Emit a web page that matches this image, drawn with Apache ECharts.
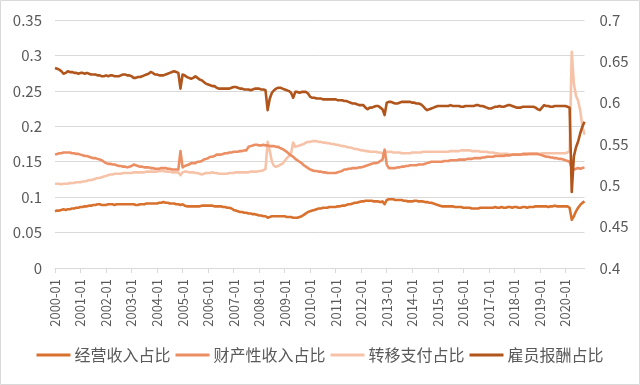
<!DOCTYPE html>
<html>
<head>
<meta charset="utf-8">
<script src="https://cdn.jsdelivr.net/npm/echarts@6/dist/echarts.min.js"></script>
<style>
html,body{margin:0;padding:0;background:#fff;}
#chart{width:640px;height:385px;}
</style>
</head>
<body>
<div id="chart"></div>
<script>
// Series names
const seriesNames = ['经营收入占比', '财产性收入占比', '转移支付占比', '雇员报酬占比'];

// Left axis ticks / right axis ticks
const leftTicks = [0, 0.05, 0.1, 0.15, 0.2, 0.25, 0.3, 0.35];
const rightTicks = [0.4, 0.45, 0.5, 0.55, 0.6, 0.65, 0.7];

// Monthly categories 2000-01 .. 2020-10
const categories = [];
for (let y = 2000; y <= 2020; y++) {
  for (let m = 1; m <= 12; m++) {
    if (y === 2020 && m > 10) break;
    categories.push(y + '-' + (m < 10 ? '0' + m : m));
  }
}

// 经营收入占比 (left axis)
const proprietor = [
0.080,0.081,0.081,0.082,0.083,0.082,0.083,0.083,0.084,0.084,0.085,0.085,
0.086,0.086,0.087,0.087,0.088,0.088,0.089,0.089,0.090,0.090,0.089,0.089,
0.089,0.090,0.090,0.090,0.089,0.090,0.090,0.090,0.090,0.090,0.090,0.090,
0.090,0.090,0.089,0.089,0.090,0.090,0.090,0.091,0.091,0.091,0.091,0.091,
0.091,0.092,0.092,0.093,0.092,0.092,0.091,0.091,0.091,0.090,0.090,0.089,
0.090,0.088,0.087,0.087,0.087,0.087,0.087,0.087,0.087,0.088,0.088,0.088,
0.088,0.088,0.088,0.087,0.087,0.087,0.087,0.086,0.086,0.085,0.085,0.084,
0.082,0.081,0.080,0.079,0.079,0.078,0.078,0.077,0.077,0.076,0.076,0.075,
0.074,0.074,0.073,0.073,0.071,0.072,0.073,0.073,0.073,0.073,0.073,0.073,
0.073,0.072,0.072,0.072,0.071,0.071,0.071,0.072,0.073,0.075,0.077,0.079,
0.080,0.081,0.082,0.083,0.084,0.084,0.085,0.085,0.085,0.086,0.086,0.086,
0.086,0.087,0.087,0.088,0.088,0.089,0.090,0.090,0.091,0.092,0.092,0.093,
0.094,0.094,0.095,0.095,0.095,0.095,0.094,0.094,0.094,0.093,0.094,0.090,
0.096,0.097,0.097,0.097,0.096,0.096,0.096,0.096,0.095,0.095,0.094,0.094,
0.094,0.095,0.095,0.094,0.094,0.094,0.093,0.093,0.092,0.092,0.091,0.090,
0.089,0.088,0.087,0.087,0.087,0.087,0.087,0.087,0.086,0.086,0.086,0.086,
0.085,0.085,0.085,0.085,0.084,0.084,0.084,0.084,0.085,0.085,0.085,0.085,
0.085,0.085,0.085,0.086,0.085,0.085,0.086,0.085,0.085,0.086,0.086,0.085,
0.086,0.086,0.085,0.085,0.086,0.086,0.085,0.086,0.086,0.086,0.087,0.087,
0.087,0.087,0.087,0.087,0.086,0.087,0.087,0.088,0.087,0.087,0.087,0.087,
0.087,0.087,0.085,0.068,0.073,0.080,0.085,0.089,0.092,0.094
];

// 财产性收入占比 (left axis)
const property = [
0.160,0.161,0.162,0.162,0.163,0.163,0.163,0.163,0.162,0.162,0.161,0.161,
0.160,0.159,0.158,0.158,0.157,0.156,0.155,0.155,0.154,0.153,0.152,0.150,
0.148,0.147,0.147,0.146,0.146,0.145,0.144,0.144,0.143,0.143,0.142,0.143,
0.144,0.146,0.145,0.144,0.143,0.143,0.142,0.142,0.142,0.141,0.141,0.140,
0.140,0.140,0.141,0.141,0.141,0.140,0.140,0.139,0.139,0.139,0.139,0.165,
0.142,0.144,0.145,0.146,0.148,0.148,0.148,0.150,0.150,0.151,0.153,0.154,
0.155,0.157,0.157,0.158,0.160,0.160,0.160,0.161,0.162,0.162,0.163,0.163,
0.164,0.164,0.164,0.165,0.165,0.166,0.166,0.171,0.172,0.173,0.174,0.174,
0.173,0.173,0.174,0.173,0.173,0.172,0.172,0.172,0.171,0.171,0.169,0.168,
0.166,0.164,0.161,0.159,0.157,0.154,0.152,0.150,0.148,0.145,0.143,0.141,
0.139,0.138,0.137,0.137,0.136,0.136,0.135,0.135,0.134,0.134,0.134,0.134,
0.134,0.135,0.136,0.137,0.139,0.139,0.140,0.140,0.141,0.141,0.141,0.142,
0.142,0.143,0.144,0.145,0.146,0.147,0.148,0.148,0.149,0.151,0.153,0.167,
0.146,0.141,0.141,0.141,0.141,0.142,0.142,0.143,0.143,0.144,0.144,0.145,
0.145,0.145,0.145,0.146,0.146,0.146,0.147,0.148,0.149,0.150,0.150,0.150,
0.150,0.150,0.150,0.151,0.151,0.151,0.152,0.152,0.152,0.152,0.153,0.153,
0.153,0.153,0.154,0.154,0.154,0.155,0.155,0.155,0.155,0.156,0.156,0.157,
0.157,0.157,0.157,0.158,0.158,0.158,0.158,0.158,0.159,0.159,0.159,0.160,
0.160,0.160,0.160,0.160,0.161,0.161,0.161,0.161,0.161,0.161,0.161,0.161,
0.160,0.159,0.158,0.157,0.157,0.156,0.156,0.155,0.155,0.154,0.154,0.153,
0.152,0.151,0.150,0.141,0.139,0.140,0.141,0.140,0.141,0.142
];

// 转移支付占比 (left axis)
const transfer = [
0.119,0.119,0.119,0.118,0.119,0.119,0.119,0.120,0.120,0.120,0.121,0.121,
0.121,0.122,0.122,0.123,0.124,0.124,0.125,0.126,0.127,0.127,0.128,0.129,
0.130,0.131,0.132,0.132,0.133,0.133,0.133,0.133,0.134,0.134,0.134,0.134,
0.134,0.135,0.135,0.135,0.135,0.135,0.135,0.136,0.136,0.136,0.136,0.136,
0.136,0.137,0.137,0.137,0.136,0.136,0.136,0.135,0.135,0.135,0.135,0.131,
0.135,0.136,0.136,0.135,0.135,0.135,0.134,0.134,0.133,0.132,0.133,0.134,
0.134,0.134,0.135,0.134,0.134,0.133,0.133,0.133,0.133,0.133,0.134,0.134,
0.134,0.135,0.135,0.135,0.135,0.135,0.135,0.135,0.136,0.136,0.136,0.136,
0.137,0.137,0.138,0.140,0.178,0.165,0.150,0.144,0.143,0.144,0.146,0.147,
0.151,0.155,0.158,0.162,0.177,0.171,0.172,0.173,0.174,0.175,0.177,0.178,
0.178,0.179,0.179,0.179,0.178,0.178,0.177,0.177,0.176,0.176,0.175,0.175,
0.174,0.174,0.173,0.172,0.172,0.171,0.170,0.170,0.169,0.168,0.168,0.167,
0.166,0.166,0.165,0.165,0.164,0.164,0.164,0.164,0.163,0.163,0.162,0.160,
0.164,0.164,0.164,0.163,0.163,0.163,0.163,0.162,0.162,0.162,0.162,0.162,
0.163,0.163,0.163,0.163,0.163,0.164,0.164,0.164,0.164,0.164,0.164,0.164,
0.164,0.164,0.164,0.164,0.164,0.164,0.165,0.165,0.165,0.165,0.165,0.166,
0.166,0.166,0.166,0.166,0.165,0.165,0.165,0.165,0.164,0.164,0.164,0.164,
0.163,0.163,0.163,0.162,0.162,0.161,0.161,0.161,0.161,0.161,0.160,0.160,
0.160,0.160,0.160,0.160,0.160,0.160,0.160,0.161,0.161,0.161,0.161,0.161,
0.161,0.162,0.162,0.162,0.162,0.162,0.162,0.162,0.162,0.162,0.162,0.162,
0.162,0.163,0.165,0.305,0.260,0.243,0.236,0.222,0.200,0.188
];

// 雇员报酬占比 (right axis)
const compensation = [
0.642,0.641,0.640,0.638,0.635,0.636,0.638,0.637,0.637,0.636,0.636,0.635,
0.636,0.636,0.635,0.636,0.635,0.634,0.634,0.634,0.633,0.633,0.632,0.632,
0.633,0.632,0.633,0.633,0.632,0.632,0.632,0.633,0.634,0.634,0.633,0.633,
0.632,0.630,0.630,0.631,0.631,0.632,0.633,0.634,0.635,0.637,0.636,0.634,
0.634,0.633,0.633,0.633,0.634,0.635,0.636,0.637,0.638,0.637,0.636,0.617,
0.634,0.633,0.631,0.630,0.629,0.630,0.632,0.630,0.628,0.627,0.625,0.623,
0.622,0.621,0.620,0.620,0.618,0.617,0.617,0.617,0.617,0.617,0.617,0.618,
0.619,0.619,0.618,0.617,0.617,0.616,0.616,0.616,0.615,0.616,0.617,0.617,
0.617,0.616,0.616,0.615,0.591,0.605,0.612,0.615,0.617,0.618,0.618,0.617,
0.616,0.615,0.614,0.612,0.606,0.613,0.613,0.612,0.613,0.613,0.613,0.611,
0.607,0.606,0.606,0.605,0.605,0.605,0.604,0.604,0.604,0.604,0.604,0.604,
0.604,0.603,0.603,0.603,0.602,0.602,0.601,0.600,0.599,0.599,0.598,0.597,
0.597,0.597,0.594,0.592,0.594,0.594,0.595,0.596,0.596,0.594,0.592,0.585,
0.600,0.601,0.601,0.600,0.599,0.599,0.600,0.601,0.601,0.601,0.601,0.601,
0.600,0.600,0.599,0.599,0.598,0.596,0.593,0.591,0.592,0.593,0.594,0.595,
0.596,0.596,0.596,0.596,0.596,0.596,0.597,0.596,0.596,0.596,0.596,0.595,
0.595,0.596,0.596,0.596,0.596,0.596,0.597,0.597,0.596,0.596,0.595,0.594,
0.593,0.593,0.594,0.595,0.595,0.596,0.595,0.595,0.596,0.597,0.597,0.596,
0.595,0.594,0.594,0.594,0.595,0.595,0.595,0.595,0.595,0.595,0.594,0.592,
0.591,0.594,0.597,0.596,0.596,0.595,0.595,0.596,0.596,0.596,0.596,0.596,
0.596,0.595,0.594,0.492,0.535,0.546,0.553,0.563,0.571,0.577
];

const colors = ['#D8712E', '#EC8E63', '#F6C3A9', '#B0561D'];
const FONT = '"Noto Sans CJK SC", "Noto Sans", sans-serif';
const labelColor = '#595959';
const gridColor = '#D9D9D9';

const chart = echarts.init(document.getElementById('chart'), null, {renderer: 'canvas'});
const fmt = v => String(+v.toFixed(2));

const seriesData = [proprietor, property, transfer, compensation];
const series = seriesNames.map((name, k) => ({
  name: name,
  type: 'line',
  yAxisIndex: k === 3 ? 1 : 0,
  data: seriesData[k],
  showSymbol: false,
  symbol: 'none',
  smooth: false,
  lineStyle: {width: 2.6, color: colors[k], join: 'round'},
  itemStyle: {color: colors[k]},
  z: k === 2 ? 1 : 2
}));

chart.setOption({
  animation: false,
  backgroundColor: '#fff',
  color: colors,
  textStyle: {fontFamily: FONT},
  graphic: [{
    type: 'rect',
    shape: {x: 0.5, y: 0.5, width: 639, height: 384},
    style: {fill: 'none', stroke: gridColor, lineWidth: 1},
    silent: true
  }],
  grid: {left: 55, right: 55.5, top: 20, bottom: 117, containLabel: false},
  legend: {
    bottom: 17,
    left: 'center',
    itemWidth: 34,
    itemHeight: 3,
    itemGap: 5,
    icon: 'rect',
    textStyle: {color: labelColor, fontSize: 16, fontFamily: FONT, padding: [0, 0, 0, -1]},
    data: seriesNames
  },
  xAxis: {
    type: 'category',
    boundaryGap: false,
    data: categories,
    axisLine: {lineStyle: {color: gridColor, width: 1}},
    axisTick: {interval: 11, length: 5, lineStyle: {color: gridColor}},
    axisLabel: {interval: 11, rotate: 90, color: labelColor, fontSize: 13, fontFamily: FONT, margin: 11},
    splitLine: {show: false}
  },
  yAxis: [{
    type: 'value',
    min: leftTicks[0],
    max: leftTicks[leftTicks.length - 1],
    interval: 0.05,
    axisLine: {show: false},
    axisTick: {show: false},
    axisLabel: {color: labelColor, fontSize: 15, fontFamily: FONT, margin: 13, formatter: fmt},
    splitLine: {lineStyle: {color: gridColor, width: 1}}
  }, {
    type: 'value',
    min: rightTicks[0],
    max: rightTicks[rightTicks.length - 1],
    interval: 0.05,
    axisLine: {show: false},
    axisTick: {show: false},
    axisLabel: {color: labelColor, fontSize: 15, fontFamily: FONT, margin: 15, formatter: fmt},
    splitLine: {show: false}
  }],
  series: series
});
</script>
</body>
</html>
